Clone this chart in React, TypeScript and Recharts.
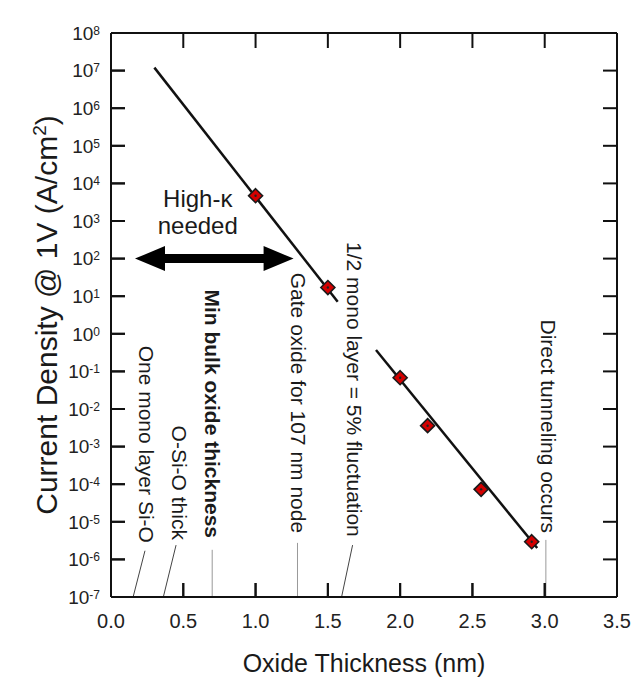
import {
  ComposedChart,
  XAxis,
  YAxis,
  Line,
  Scatter,
  ReferenceLine,
  ReferenceDot,
} from 'recharts';

const FONT = '"Liberation Sans", Arial, Helvetica, sans-serif';

// measured points: oxide thickness (nm) vs current density @ 1V (A/cm^2)
const thickness = [1.0, 1.5, 2.0, 2.19, 2.56, 2.91];
const density = [4.7e3, 17, 0.068, 0.0036, 7.3e-5, 2.95e-6];

// trend line, drawn in two pieces (gap where the 1/2 mono layer note crosses)
const fitA = [
  { t: 0.3, j: 1.2e7 },
  { t: 1.568, j: 7.1 },
];
const fitB = [
  { t: 1.833, j: 0.37 },
  { t: 2.948, j: 2.0e-6 },
];

const xTicks = [0, 0.5, 1, 1.5, 2, 2.5, 3, 3.5];
const yExps = [-7, -6, -5, -4, -3, -2, -1, 0, 1, 2, 3, 4, 5, 6, 7, 8];
const yTicks = yExps.map((e) => Math.pow(10, e));

// vertical notes along the bottom of the plot
const noteLabels = [
  'One mono layer Si-O',
  'O-Si-O thick',
  'Min bulk oxide thickness',
  'Gate oxide for 107 nm node',
  '1/2 mono layer = 5% fluctuation',
  'Direct tunneling occurs',
];
const noteX = [0.249, 0.477, 0.705, 1.295, 1.687, 3.029];
const noteEnd = [2.75e-6, 3.3e-6, 3.7e-6, 5.0e-6, 4.0e-6, 5.0e-6];
const noteBold = [false, false, true, false, false, false];
const leaderBaseX = [0.153, 0.362, 0.7, 1.29, 1.595, 3.008];
const leaderTipX = [0.235, 0.45, 0.7, 1.29, 1.671, 3.008];
const leaderTipY = [1.7e-6, 2.4e-6, 1.8e-6, 2.75e-6, 2.4e-6, 3.3e-6];
const leaderColor = ['#444', '#444', '#999', '#999', '#444', '#999'];

// "High-k needed" arrow span
const arrowFrom = 0.166;
const arrowTo = 1.263;
const arrowLevel = 100;

const points = thickness.map((t, i) => ({ t, j: density[i] }));

const X_MIN = 0;
const X_MAX = 3.5;
const Y_MIN = 1e-7;
const Y_MAX = 1e8;
const E_MIN = -7;
const E_MAX = 8;
const TICK_LEN = 14;

const innerX = xTicks.slice(1, -1);
const innerE = yExps.slice(1, -1);

// tick positions along an axis box, from its label viewBox
const xPos = (vb: any, t: number) => vb.x + ((t - X_MIN) / (X_MAX - X_MIN)) * vb.width;
const yPos = (vb: any, e: number) => vb.y + ((E_MAX - e) / (E_MAX - E_MIN)) * vb.height;

const XTick = (props: any) => {
  const { x, y, payload } = props;
  return (
    <text x={x} y={y} dy="0.71em" textAnchor="middle" fontSize={20} fill="#222" fontFamily={FONT}>
      {Number(payload.value).toFixed(1)}
    </text>
  );
};

const YTick = (props: any) => {
  const { x, y, payload } = props;
  const exp = Math.round(Math.log10(payload.value));
  return (
    <text x={x} y={y} textAnchor="end" fontSize={19} fill="#222" fontFamily={FONT}>
      <tspan dy="0.36em">10</tspan>
      <tspan dy={-5} fontSize={12}>
        {exp}
      </tspan>
    </text>
  );
};

const NoTick = () => <g />;

// bottom axis title + inward ticks on the bottom edge
const XLabel = (props: any) => {
  const vb = props.viewBox;
  if (!vb) return <g />;
  return (
    <g>
      {innerX.map((t) => (
        <line
          key={t}
          x1={xPos(vb, t)}
          y1={vb.y}
          x2={xPos(vb, t)}
          y2={vb.y - TICK_LEN}
          stroke="#111"
          strokeWidth={2}
        />
      ))}
      <text
        x={vb.x + vb.width / 2}
        y={vb.y + vb.height - 10}
        textAnchor="middle"
        fontSize={25}
        fill="#1a1a1a"
        fontFamily={FONT}
      >
        Oxide Thickness (nm)
      </text>
    </g>
  );
};

// left axis title + inward ticks on the left edge
const YLabel = (props: any) => {
  const vb = props.viewBox;
  if (!vb) return <g />;
  const cy = vb.y + vb.height / 2;
  const edge = vb.x + vb.width;
  return (
    <g>
      {innerE.map((e) => (
        <line
          key={e}
          x1={edge}
          y1={yPos(vb, e)}
          x2={edge + TICK_LEN}
          y2={yPos(vb, e)}
          stroke="#111"
          strokeWidth={2}
        />
      ))}
      <text
        transform={`translate(57,${cy}) rotate(-90)`}
        textAnchor="middle"
        fontSize={30}
        fill="#1a1a1a"
        fontFamily={FONT}
      >
        Current Density @ 1V (A/cm
        <tspan dy={-11} fontSize={19}>
          2
        </tspan>
        <tspan dy={11}>)</tspan>
      </text>
    </g>
  );
};

// inward ticks on the top edge
const TopTicks = (props: any) => {
  const vb = props.viewBox;
  if (!vb) return <g />;
  const edge = vb.y + vb.height;
  return (
    <g>
      {innerX.map((t) => (
        <line
          key={t}
          x1={xPos(vb, t)}
          y1={edge}
          x2={xPos(vb, t)}
          y2={edge + TICK_LEN + 1}
          stroke="#111"
          strokeWidth={2}
        />
      ))}
    </g>
  );
};

// inward ticks on the right edge
const RightTicks = (props: any) => {
  const vb = props.viewBox;
  if (!vb) return <g />;
  return (
    <g>
      {innerE.map((e) => (
        <line
          key={e}
          x1={vb.x}
          y1={yPos(vb, e)}
          x2={vb.x - TICK_LEN}
          y2={yPos(vb, e)}
          stroke="#111"
          strokeWidth={2}
        />
      ))}
    </g>
  );
};

const Diamond = (props: any) => {
  const { cx, cy } = props;
  if (cx == null || cy == null) return <g />;
  const r = 7;
  return (
    <g>
      <polygon
        points={`${cx},${cy - r} ${cx + r},${cy} ${cx},${cy + r} ${cx - r},${cy}`}
        fill="#d40000"
        stroke="#1a1a1a"
        strokeWidth={1.6}
      />
      <circle cx={cx} cy={cy} r={1.2} fill="#222" />
    </g>
  );
};

const DoubleArrow = (props: any) => {
  const { x1, y1, x2 } = props;
  const left = Math.min(x1, x2);
  const right = Math.max(x1, x2);
  const y = y1;
  const head = 30;
  const hw = 12.5;
  const sw = 4.5;
  const d = [
    `M${left},${y}`,
    `L${left + head},${y - hw}`,
    `L${left + head},${y - sw}`,
    `L${right - head},${y - sw}`,
    `L${right - head},${y - hw}`,
    `L${right},${y}`,
    `L${right - head},${y + hw}`,
    `L${right - head},${y + sw}`,
    `L${left + head},${y + sw}`,
    `L${left + head},${y + hw}`,
    'Z',
  ].join(' ');
  return <path d={d} fill="#000" />;
};

export default function App() {
  return (
    <div style={{ position: 'absolute', left: 0, top: 0, background: '#fff' }}>
      <ComposedChart
        width={634}
        height={682}
        margin={{ top: 32, right: 16, bottom: 0, left: 0 }}
      >
        <XAxis
          dataKey="t"
          type="number"
          domain={[X_MIN, X_MAX]}
          ticks={xTicks}
          allowDataOverflow
          height={85}
          stroke="#111"
          strokeWidth={2}
          tickSize={-14}
          tickMargin={31}
          tick={XTick}
          interval={0}
          label={<XLabel />}
        />
        <XAxis
          xAxisId="top"
          orientation="top"
          type="number"
          domain={[X_MIN, X_MAX]}
          ticks={xTicks}
          allowDataOverflow
          height={1}
          stroke="#111"
          strokeWidth={2}
          tickLine={false}
          tick={NoTick}
          label={<TopTicks />}
        />
        <YAxis
          type="number"
          scale="log"
          domain={[Y_MIN, Y_MAX]}
          ticks={yTicks}
          allowDataOverflow
          width={111}
          stroke="#111"
          strokeWidth={2}
          tickSize={-14}
          tickMargin={25}
          tick={YTick}
          interval={0}
          label={<YLabel />}
        />
        <YAxis
          yAxisId="right"
          orientation="right"
          type="number"
          scale="log"
          domain={[Y_MIN, Y_MAX]}
          ticks={yTicks}
          allowDataOverflow
          width={1}
          stroke="#111"
          strokeWidth={2}
          tickLine={false}
          tick={NoTick}
          label={<RightTicks />}
        />

        {noteLabels.map((_, i) => (
          <ReferenceLine
            key={`lead-${i}`}
            segment={[
              { x: leaderBaseX[i], y: Y_MIN },
              { x: leaderTipX[i], y: leaderTipY[i] },
            ]}
            stroke={leaderColor[i]}
            strokeWidth={1}
            ifOverflow="visible"
          />
        ))}

        {noteLabels.map((text, i) => (
          <ReferenceDot
            key={`note-${i}`}
            x={noteX[i]}
            y={noteEnd[i]}
            r={0}
            ifOverflow="visible"
            shape={(p: any) => (
              <text
                transform={`translate(${p.cx},${p.cy}) rotate(90)`}
                textAnchor="end"
                dominantBaseline="central"
                fontSize={21}
                fontWeight={noteBold[i] ? 700 : 400}
                fill="#1a1a1a"
                fontFamily={FONT}
              >
                {text}
              </text>
            )}
          />
        ))}

        <ReferenceLine
          segment={[
            { x: arrowFrom, y: arrowLevel },
            { x: arrowTo, y: arrowLevel },
          ]}
          ifOverflow="visible"
          shape={DoubleArrow}
        />
        <ReferenceDot
          x={0.6}
          y={2.35e3}
          r={0}
          ifOverflow="visible"
          shape={(p: any) => (
            <g fontFamily={FONT} fontSize={24} fill="#1a1a1a" textAnchor="middle">
              <text x={p.cx} y={p.cy}>
                High-κ
              </text>
              <text x={p.cx} y={p.cy + 27}>
                needed
              </text>
            </g>
          )}
        />

        <Line
          data={fitA}
          dataKey="j"
          type="linear"
          stroke="#111"
          strokeWidth={2.5}
          dot={false}
          activeDot={false}
          isAnimationActive={false}
        />
        <Line
          data={fitB}
          dataKey="j"
          type="linear"
          stroke="#111"
          strokeWidth={2.5}
          dot={false}
          activeDot={false}
          isAnimationActive={false}
        />
        <Scatter data={points} dataKey="j" shape={Diamond} isAnimationActive={false} />
      </ComposedChart>
    </div>
  );
}
